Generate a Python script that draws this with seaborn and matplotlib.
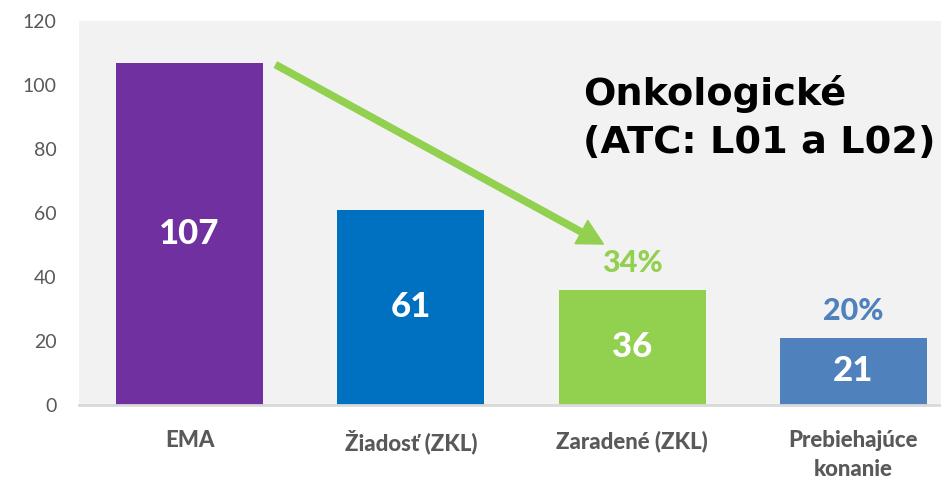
import matplotlib
matplotlib.use("Agg")
import matplotlib.pyplot as plt
import pandas as pd
import seaborn as sns

# --- data ---
categories = ["EMA", "Žiadosť (ZKL)", "Zaradené (ZKL)", "Prebiehajúce\nkonanie"]
values = [107, 61, 36, 21]
pct_labels = ["", "", "34%", "20%"]
bar_colors = ["#7030A0", "#0070C0", "#92D050", "#4F81BD"]
pct_colors = ["#92D050", "#92D050", "#92D050", "#4F81BD"]
y_ticks = [0, 20, 40, 60, 80, 100, 120]
title_lines = ["Onkologické", "(ATC: L01 a L02)"]

df = pd.DataFrame({"category": categories, "count": values})

sns.set_style("white")
plt.rcParams["font.family"] = ["Lato", "DejaVu Sans"]

fig = plt.figure(figsize=(9.41, 4.82), dpi=100)
# plot area runs past the right edge of the picture, as in the original crop
ax = fig.add_axes([79 / 941, 77 / 482, 885 / 941, 384 / 482])
ax.set_facecolor("#F2F2F2")

sns.barplot(
    data=df,
    x="category",
    y="count",
    hue="category",
    palette=bar_colors,
    width=0.665,
    saturation=1,
    linewidth=0,
    legend=False,
    ax=ax,
)

ax.set_xlim(-0.5, 3.5)
ax.set_ylim(0, 120)
ax.set_yticks(y_ticks)
ax.set_xlabel("")
ax.set_ylabel("")
for side in ["top", "right", "left"]:
    ax.spines[side].set_visible(False)
ax.spines["bottom"].set_color("#D9D9D9")
ax.spines["bottom"].set_linewidth(2)
ax.tick_params(axis="y", length=0, pad=16, labelsize=14, labelcolor="#595959")
ax.tick_params(axis="x", length=0, pad=18, labelsize=16, labelcolor="#595959")
for lbl in ax.get_xticklabels():
    lbl.set_fontweight("black")
    lbl.set_linespacing(1.5)

# value labels inside the bars, percentages above
for i, cont in enumerate(ax.containers):
    ax.bar_label(cont, labels=[str(values[i])], label_type="center",
                 color="white", fontsize=25, fontweight="black")
    if pct_labels[i]:
        ax.bar_label(cont, labels=[pct_labels[i]], padding=9,
                     color=pct_colors[i], fontsize=22, fontweight="black")

# green arrow from EMA down to Zaradené
ax.annotate(
    "",
    xy=(1.87, 50.3),
    xytext=(0.39, 106.3),
    arrowprops=dict(color="#92D050", width=4.5, headwidth=19, headlength=18),
)

fig.text(583 / 941, 1 - 105 / 482, title_lines[0], ha="left", va="baseline",
         fontsize=27.5, fontweight="bold", family="DejaVu Sans", color="black")
fig.text(583 / 941, 1 - 153 / 482, title_lines[1], ha="left", va="baseline",
         fontsize=27.5, fontweight="bold", family="DejaVu Sans", color="black")

fig.savefig("out.png", dpi=100)
